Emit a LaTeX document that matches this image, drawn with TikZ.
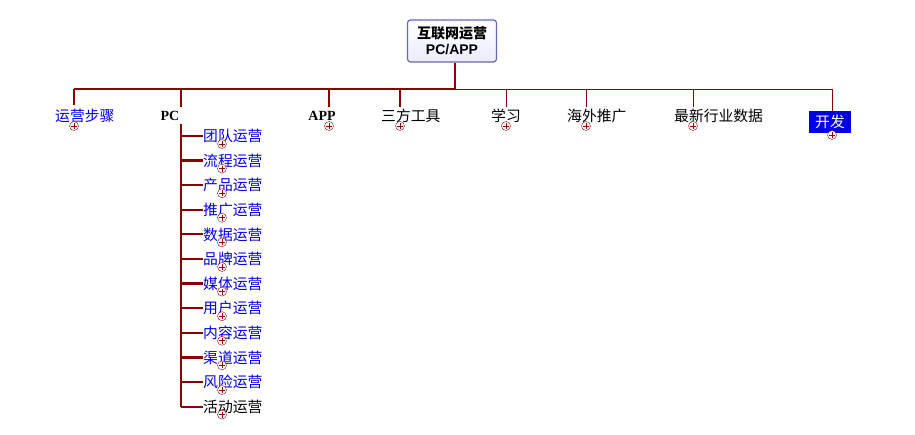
\documentclass[tikz,border=0pt]{standalone}
\usepackage{fontspec}
\setmainfont{Liberation Serif}
\newfontfamily\cjk{Noto Sans CJK SC}
\newfontfamily\hv{Liberation Sans}
\begin{document}
\begin{tikzpicture}[x=1pt,y=-1pt,
  lbl/.style={inner sep=1pt,font=\cjk\fontsize{14.8}{17}\selectfont,anchor=west},
  plus/.style={circle,draw=red!60!black,fill=white,inner sep=0pt,minimum size=9pt,path picture={\draw[red!60!black,line width=0.7pt] ([xshift=-3pt]path picture bounding box.center)--([xshift=3pt]path picture bounding box.center) ([yshift=-3pt]path picture bounding box.center)--([yshift=3pt]path picture bounding box.center);}},
  thick/.style={draw=red!55!black,line width=2.2pt},
  thin/.style={draw=red!55!black,line width=0.9pt}]
\useasboundingbox (0,0) rectangle (915,435);
\definecolor{bl}{RGB}{0,0,230}
\node[draw=blue!50!black!60,rounded corners=3pt,line width=1.2pt,top color=white,bottom color=blue!8,minimum width=89,minimum height=42,align=center,font=\hv\bfseries\fontsize{14}{16}\selectfont] (root) at (452,41) {{\cjk\bfseries 互联网运营}\\PC/APP};
\foreach \x in {413,419,...,492}{\fill[blue!40] (\x,20) circle (1.5);}
\coordinate (j) at (455,89);
\draw[thick] (root.south -| j) -- (j);
\coordinate (L) at (74,89); \coordinate (R) at (832,89);
\draw[thick] (j) -- (L);
\draw[thin] (j) -- (R);
% top-level nodes
\node[lbl,text=bl] (n1) at (54,116) {运营步骤};
\node[inner sep=1pt,font=\bfseries\fontsize{14}{16}\selectfont,fill=white] (pc) at (170,116) {PC};
\node[inner sep=1pt,font=\bfseries\fontsize{14}{16}\selectfont] (app) at (322,116) {APP};
\node[lbl] (n4) at (380,116) {三方工具};
\node[lbl] (n5) at (490,116) {学习};
\node[lbl] (n6) at (566,116) {海外推广};
\node[lbl] (n7) at (673,116) {最新行业数据};
\node[lbl,fill=bl,text=white,minimum height=22,inner xsep=6pt] (n8) at (809,122) {开发};
\draw[thick] (L) -- (74,105);
\draw[thick] (181,89) -- (181,107);
\draw[thick] (329,89) -- (329,107);
\draw[thick] (400,89) -- (400,107);
\draw[thin] (506,89) -- (506,107);
\draw[thin] (586,89) -- (586,107);
\draw[thin] (693,89) -- (693,107);
\draw[thin] (R) -- (n8.north -| R);
\node[plus] at (74,126) {};
\node[plus] at (329,126) {};
\node[plus] at (400,126) {};
\node[plus] at (506,126) {};
\node[plus] at (586,126) {};
\node[plus] at (693,126) {};
\node[plus] at (832,135) {};
% PC children
\draw[thick] (181,124) -- (181,407);
\foreach \t [count=\i] in {团队运营,流程运营,产品运营,推广运营,数据运营,品牌运营,媒体运营,用户运营,内容运营,渠道运营,风险运营,活动运营}{
  \pgfmathsetmacro\yy{136+(\i-1)*24.6}
  \draw[thick] (181,\yy) -- (203,\yy);
  \ifnum\i=12 \node[lbl] (c\i) at (202,\yy) {\t};\else \node[lbl,text=bl] (c\i) at (202,\yy) {\t};\fi
  \node[plus] at (222,\yy+8) {};
}
\end{tikzpicture}
\end{document}
